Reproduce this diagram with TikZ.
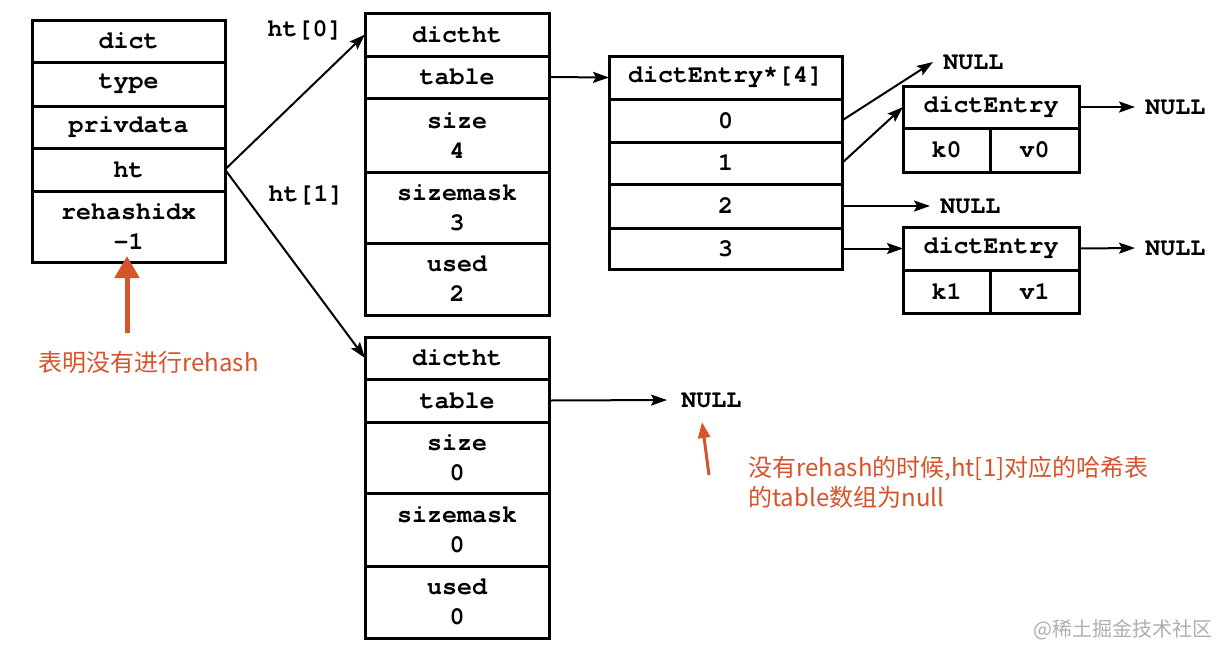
\documentclass[tikz,border=0pt]{standalone}
\usepackage{fontspec}
\newfontfamily\codefont{TeX Gyre Cursor}
\newfontfamily\cjk{Noto Sans CJK SC}
\usetikzlibrary{arrows.meta}
\definecolor{noteorange}{RGB}{214,84,42}
\definecolor{wmgray}{RGB}{175,175,175}
\newcommand\cellbox[6]{\node[cellst, minimum width={(#4-#2)*0.5pt}, minimum height={(#5-#3)*0.5pt}] (#1) at ({(#2+#4)/2},{(#3+#5)/2}) {#6};}
\begin{document}
\begin{tikzpicture}[x=0.5pt, y=-0.5pt,
  codetext/.style={font=\codefont\bfseries\fontsize{12.5}{15}\selectfont},
  cellst/.style={codetext, draw, line width=1.5pt, inner sep=0pt, outer sep=0pt, align=center},
  lbl/.style={codetext, inner sep=0pt},
  nullst/.style={codetext, inner ysep=0pt, inner xsep=5pt, anchor=west},
  ptr/.style={line width=1pt, -{Stealth[length=8pt,width=5.5pt,inset=1.5pt]}},
  notetext/.style={font=\cjk\fontsize{12}{15}\selectfont, text=noteorange, inner sep=0pt},
  notearrow/.style={draw=noteorange, line width=#1}
]
\useasboundingbox (0,0) rectangle (1230,660);
\fill[white] (0,0) rectangle (1230,660);

% dict
\cellbox{d-dict}{32}{20}{225}{62}{dict}
\cellbox{d-type}{32}{62}{225}{106}{type}
\cellbox{d-priv}{32}{106}{225}{148}{privdata}
\cellbox{d-ht}{32}{148}{225}{191}{ht}
\cellbox{d-rh}{32}{191}{225}{262}{rehashidx\\-1}

% ht[0]
\cellbox{h0-title}{365}{13}{549}{56}{dictht}
\cellbox{h0-table}{365}{56}{549}{98}{table}
\cellbox{h0-size}{365}{98}{549}{172}{size\\4}
\cellbox{h0-mask}{365}{172}{549}{243}{sizemask\\3}
\cellbox{h0-used}{365}{243}{549}{315}{used\\2}

% ht[1]
\cellbox{h1-title}{365}{337}{549}{379}{dictht}
\cellbox{h1-table}{365}{379}{549}{422}{table}
\cellbox{h1-size}{365}{422}{549}{493}{size\\0}
\cellbox{h1-mask}{365}{493}{549}{566}{sizemask\\0}
\cellbox{h1-used}{365}{566}{549}{638}{used\\0}

% bucket array
\cellbox{de-head}{609}{56}{842}{99}{dictEntry*[4]}
\cellbox{b0}{609}{99}{842}{142}{0}
\cellbox{b1}{609}{142}{842}{184}{1}
\cellbox{b2}{609}{184}{842}{228}{2}
\cellbox{b3}{609}{228}{842}{269}{3}

% entries
\cellbox{e0-title}{903}{86}{1079}{128}{dictEntry}
\cellbox{e0-k}{903}{128}{990}{172}{k0}
\cellbox{e0-v}{990}{128}{1079}{172}{v0}
\cellbox{e1-title}{903}{227}{1079}{270}{dictEntry}
\cellbox{e1-k}{903}{270}{990}{313}{k1}
\cellbox{e1-v}{990}{270}{1079}{313}{v1}

% labels
\node[lbl] (lab-ht0) at (305,30) {ht[0]};
\node[lbl] (lab-ht1) at (306,195) {ht[1]};

% NULLs
\node[nullst] (null0) at (933,62) {NULL};
\node[nullst] (null1) at (1135,107) {NULL};
\node[nullst] (null2) at (930,206) {NULL};
\node[nullst] (null3) at (1135,248) {NULL};
\node[nullst, inner xsep=7pt] (null4) at (667,400) {NULL};

% pointers
\draw[ptr] (d-ht.east) -- (h0-title.west);
\draw[ptr] (d-ht.east) -- (h1-title.west);
\draw[ptr] (h0-table.east) -- (de-head.west);
\draw[ptr] (b0.east) -- (null0.west);
\draw[ptr] (b1.east) -- (e0-title.west);
\draw[ptr] (b2.east) -- (null2.west);
\draw[ptr] (b3.east) -- (e1-title.west);
\draw[ptr] (e0-title.east) -- (null1.west);
\draw[ptr] (e1-title.east) -- (null3.west);
\draw[ptr] (h1-table.east) -- (null4.west);

% notes
\node[notetext, anchor=west] (note1) at (38,362) {表明没有进行rehash};
\coordinate (o1tail) at (127,333);
\coordinate (o1tip) at (127,256);
\draw[notearrow=2.5pt, -{Triangle[length=11pt,width=12pt]}] (o1tail) -- (o1tip);

\node[notetext, anchor=north west, align=left] (note2) at (748,456) {没有rehash的时候,ht[1]对应的哈希表\\的table数组为null};
\coordinate (o2tail) at (709,475);
\coordinate (o2tip) at (702,422);
\draw[notearrow=1.5pt, -{Triangle[length=8pt,width=6pt]}] (o2tail) -- (o2tip);

% watermark
\node[font=\cjk\fontsize{10}{12}\selectfont, text=wmgray, inner sep=0pt, anchor=west] (wm) at (1033,630) {@稀土掘金技术社区};
\end{tikzpicture}
\end{document}
